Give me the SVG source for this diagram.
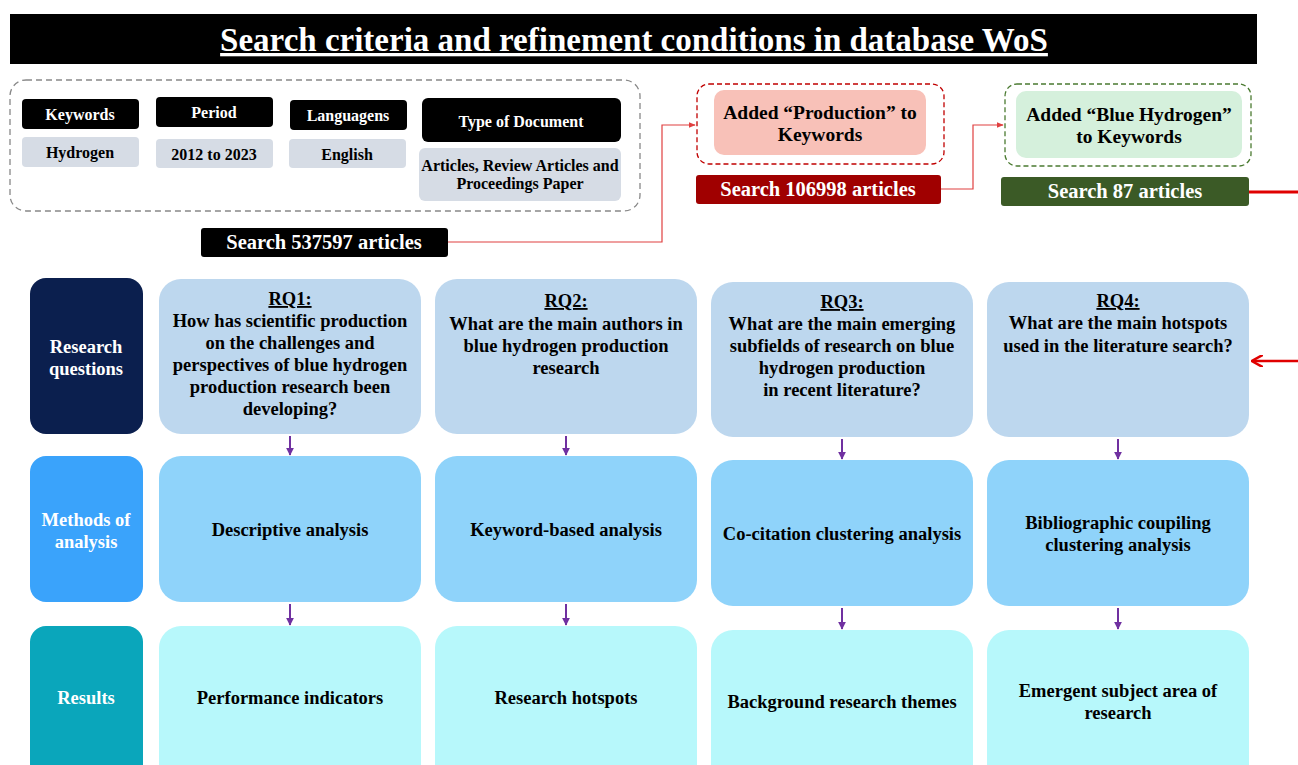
<svg xmlns="http://www.w3.org/2000/svg" width="1298" height="765" viewBox="0 0 1298 765">
<style>
text{font-family:"Liberation Serif","Times New Roman",serif;font-weight:bold;text-anchor:middle}
.t{fill:#000;font-size:18.5px}
.w{fill:#fff;font-size:18.5px}
.s{fill:#000;font-size:16px}
.sw{fill:#fff;font-size:16px}
.lab{fill:#fff;font-size:20.5px}
.add{fill:#000;font-size:19.5px}
.blk{fill:#000}
.gry{fill:#d6dce5}
.rq{fill:#bdd7ee}
.me{fill:#8fd3fa}
.re{fill:#b7f8fb}
.conn{fill:none;stroke:#e04040;stroke-width:1.2}
.pa{stroke:#7030a0;stroke-width:2;fill:none}
</style>
<defs>
<marker id="ar" viewBox="0 0 10 10" refX="9" refY="5" markerWidth="6" markerHeight="6" orient="auto"><path d="M0,1 L10,5 L0,9 z" fill="#e04040"/></marker>
<marker id="ap" viewBox="0 0 10 10" refX="9" refY="5" markerWidth="4" markerHeight="4" orient="auto"><path d="M0,0 L10,5 L0,10 z" fill="#7030a0"/></marker>
<marker id="arb" viewBox="0 0 10 10" refX="8" refY="5" markerWidth="5" markerHeight="5" orient="auto"><path d="M0,0 L9,5 L0,10" fill="none" stroke="#e00000" stroke-width="2"/></marker>
</defs>
<rect width="1298" height="765" fill="#fff"/>
<g id="title">
<rect x="10" y="14" width="1247" height="50" fill="#000"/>
<text x="634" y="51" fill="#fff" font-size="33" text-decoration="underline">Search criteria and refinement conditions in database WoS</text>
</g>
<g id="criteria">
<rect x="10" y="80" width="630" height="131" rx="16" fill="none" stroke="#888" stroke-width="1.3" stroke-dasharray="6,4"/>
<rect class="blk" x="22" y="99" width="117" height="30" rx="4"/>
<text class="sw" x="80" y="120">Keywords</text>
<rect class="gry" x="22" y="137" width="117" height="30" rx="4"/>
<text class="s" x="80" y="158">Hydrogen</text>
<rect class="blk" x="156" y="97" width="117" height="30" rx="4"/>
<text class="sw" x="214" y="118">Period</text>
<rect class="gry" x="156" y="139" width="117" height="29" rx="4"/>
<text class="s" x="214" y="160">2012 to 2023</text>
<rect class="blk" x="290" y="100" width="117" height="30" rx="4"/>
<text class="sw" x="348" y="121">Languagens</text>
<rect class="gry" x="289" y="139" width="117" height="29" rx="4"/>
<text class="s" x="347" y="160">English</text>
<rect class="blk" x="422" y="98" width="199" height="44" rx="6"/>
<text class="sw" x="521" y="127">Type of Document</text>
<rect class="gry" x="419" y="148" width="202" height="53" rx="6"/>
<text class="s" x="520" y="171" font-size="14.5">Articles, Review Articles and</text>
<text class="s" x="520" y="189" font-size="14.5">Proceedings Paper</text>
</g>
<g id="search1">
<rect class="blk" x="201" y="228" width="247" height="29" rx="3"/>
<text class="lab" x="324" y="249">Search 537597 articles</text>
</g>
<g id="production">
<rect x="697" y="84" width="247" height="80" rx="12" fill="none" stroke="#c00000" stroke-width="1.3" stroke-dasharray="5,3"/>
<rect x="714" y="90" width="212" height="65" rx="10" fill="#f8c1b8"/>
<text class="add" x="820" y="119">Added “Production” to</text>
<text class="add" x="820" y="141">Keywords</text>
</g>
<g id="search2">
<rect x="696" y="175" width="245" height="29" rx="3" fill="#a00000"/>
<text class="lab" x="818" y="196">Search 106998 articles</text>
</g>
<g id="blue">
<rect x="1005" y="84" width="246" height="82" rx="12" fill="none" stroke="#4a7a30" stroke-width="1.3" stroke-dasharray="5,3"/>
<rect x="1016" y="91" width="226" height="67" rx="10" fill="#d5f0dc"/>
<text class="add" x="1129" y="121">Added “Blue Hydrogen”</text>
<text class="add" x="1129" y="143">to Keywords</text>
</g>
<g id="search3">
<rect x="1001" y="177" width="248" height="29" rx="3" fill="#3b5a26"/>
<text class="lab" x="1125" y="198">Search 87 articles</text>
</g>
<g id="connectors">
<polyline class="conn" points="448,242 662,242 662,125 695,125" marker-end="url(#ar)"/>
<polyline class="conn" points="941,189 973,189 973,125 1003,125" marker-end="url(#ar)"/>
<line x1="1249" y1="192" x2="1298" y2="192" stroke="#e00000" stroke-width="3"/>
<line x1="1298" y1="361" x2="1253" y2="361" stroke="#e00000" stroke-width="2.5" marker-end="url(#arb)"/>
<line class="pa" x1="290" y1="436" x2="290" y2="455" marker-end="url(#ap)"/>
<line class="pa" x1="566" y1="436" x2="566" y2="455" marker-end="url(#ap)"/>
<line class="pa" x1="842" y1="439" x2="842" y2="459" marker-end="url(#ap)"/>
<line class="pa" x1="1118" y1="439" x2="1118" y2="459" marker-end="url(#ap)"/>
<line class="pa" x1="290" y1="604" x2="290" y2="625" marker-end="url(#ap)"/>
<line class="pa" x1="566" y1="604" x2="566" y2="625" marker-end="url(#ap)"/>
<line class="pa" x1="842" y1="608" x2="842" y2="629" marker-end="url(#ap)"/>
<line class="pa" x1="1118" y1="608" x2="1118" y2="629" marker-end="url(#ap)"/>
</g>
<g id="row-rq-label">
<rect x="30" y="278" width="113" height="156" rx="16" fill="#0b1f4e"/>
<text class="w" x="86" y="353">Research</text>
<text class="w" x="86" y="375">questions</text>
</g>
<g id="rq1">
<rect class="rq" x="159" y="279" width="262" height="155" rx="22"/>
<text class="t" x="290" y="305" text-decoration="underline">RQ1:</text>
<text class="t" x="290" y="327">How has scientific production</text>
<text class="t" x="290" y="349">on the challenges and</text>
<text class="t" x="290" y="371">perspectives of blue hydrogen</text>
<text class="t" x="290" y="393">production research been</text>
<text class="t" x="290" y="415">developing?</text>
</g>
<g id="rq2">
<rect class="rq" x="435" y="279" width="262" height="155" rx="22"/>
<text class="t" x="566" y="307" text-decoration="underline">RQ2:</text>
<text class="t" x="566" y="330">What are the main authors in</text>
<text class="t" x="566" y="352">blue hydrogen production</text>
<text class="t" x="566" y="374">research</text>
</g>
<g id="rq3">
<rect class="rq" x="711" y="282" width="262" height="155" rx="22"/>
<text class="t" x="842" y="308" text-decoration="underline">RQ3:</text>
<text class="t" x="842" y="330">What are the main emerging</text>
<text class="t" x="842" y="352">subfields of research on blue</text>
<text class="t" x="842" y="374">hydrogen production</text>
<text class="t" x="842" y="396">in recent literature?</text>
</g>
<g id="rq4">
<rect class="rq" x="987" y="282" width="262" height="155" rx="22"/>
<text class="t" x="1118" y="307" text-decoration="underline">RQ4:</text>
<text class="t" x="1118" y="329">What are the main hotspots</text>
<text class="t" x="1118" y="352">used in the literature search?</text>
</g>
<g id="row-method-label">
<rect x="30" y="456" width="113" height="146" rx="16" fill="#3aa3fb"/>
<text class="w" x="86" y="526">Methods of</text>
<text class="w" x="86" y="548">analysis</text>
</g>
<g id="m1">
<rect class="me" x="159" y="456" width="262" height="146" rx="22"/>
<text class="t" x="290" y="536">Descriptive analysis</text>
</g>
<g id="m2">
<rect class="me" x="435" y="456" width="262" height="146" rx="22"/>
<text class="t" x="566" y="536">Keyword-based analysis</text>
</g>
<g id="m3">
<rect class="me" x="711" y="460" width="262" height="146" rx="22"/>
<text class="t" x="842" y="540">Co-citation clustering analysis</text>
</g>
<g id="m4">
<rect class="me" x="987" y="460" width="262" height="146" rx="22"/>
<text class="t" x="1118" y="529">Bibliographic coupiling</text>
<text class="t" x="1118" y="551">clustering analysis</text>
</g>
<g id="row-result-label">
<rect x="30" y="626" width="113" height="160" rx="16" fill="#0aa6bb"/>
<text class="w" x="86" y="704">Results</text>
</g>
<g id="r1">
<rect class="re" x="159" y="626" width="262" height="160" rx="22"/>
<text class="t" x="290" y="704">Performance indicators</text>
</g>
<g id="r2">
<rect class="re" x="435" y="626" width="262" height="160" rx="22"/>
<text class="t" x="566" y="704">Research hotspots</text>
</g>
<g id="r3">
<rect class="re" x="711" y="630" width="262" height="160" rx="22"/>
<text class="t" x="842" y="708">Background research themes</text>
</g>
<g id="r4">
<rect class="re" x="987" y="630" width="262" height="160" rx="22"/>
<text class="t" x="1118" y="697">Emergent subject area of</text>
<text class="t" x="1118" y="719">research</text>
</g>
</svg>
